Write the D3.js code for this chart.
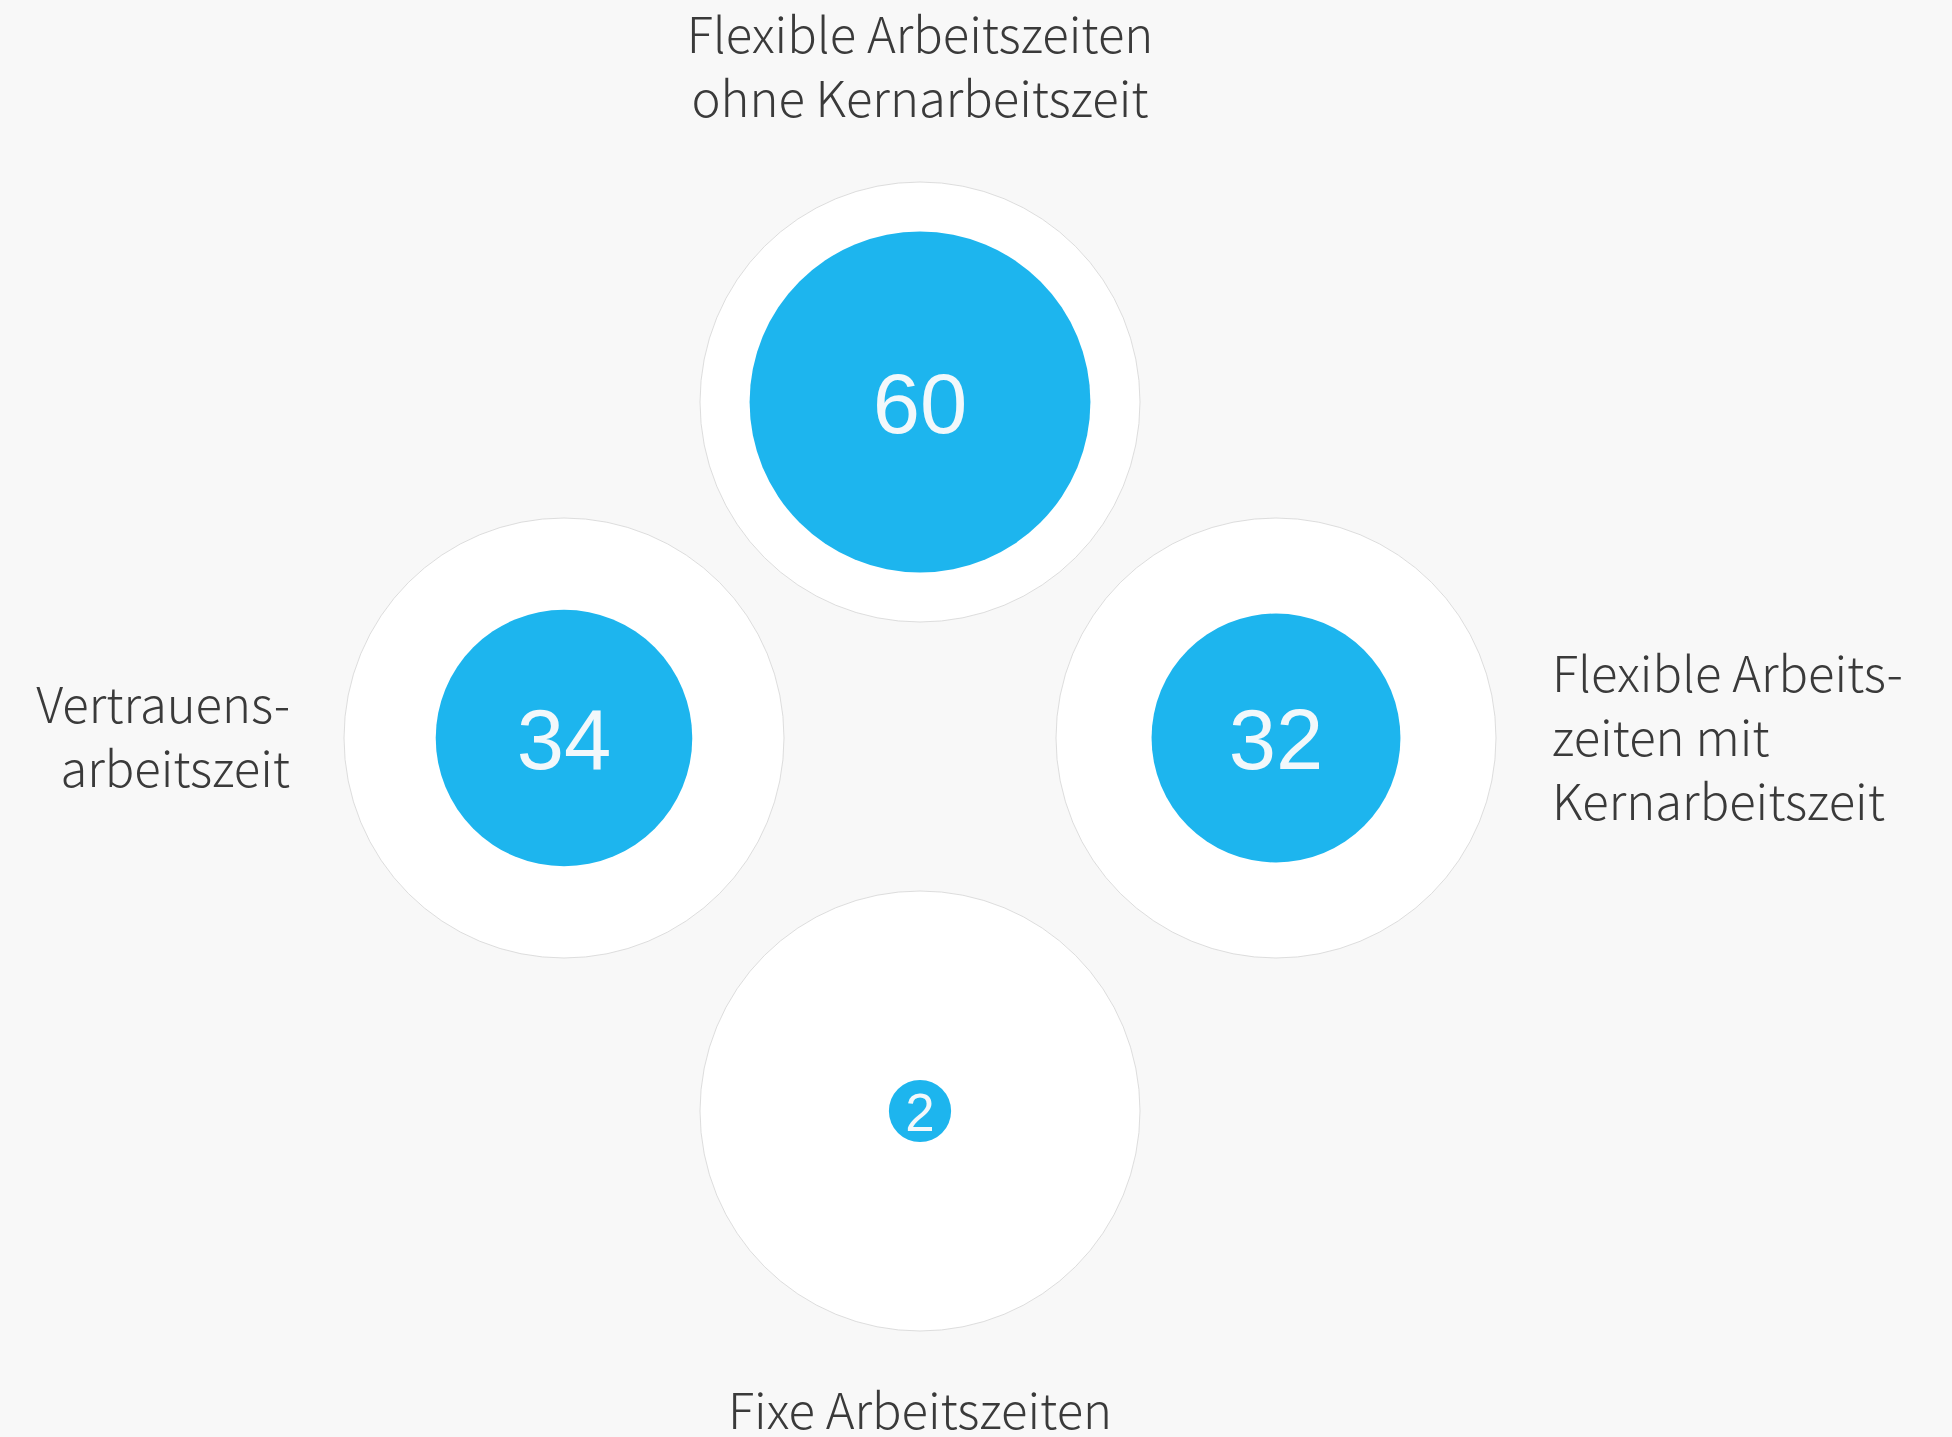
<!DOCTYPE html>
<html>
  <head>
    <meta charset="utf-8">
    <script src="https://d3js.org/d3.v7.min.js"></script>
    <style>
      body { margin: 0; background: #f8f8f8; }
      .label { font-family: "Noto Sans CJK SC", "Lato", sans-serif; font-weight: 300; font-size: 49px; fill: #3a3a3a; }
      .value { font-family: "Liberation Sans", Arial, sans-serif; fill: #f2f8fb; }
    </style>
  </head>
  <body>
    <svg id="chart" width="1952" height="1437"></svg>
    <script>
      // Anteil der Unternehmen in %, je Arbeitszeitmodell
      var categories = ["Flexible Arbeitszeiten ohne Kernarbeitszeit", "Vertrauensarbeitszeit",
                        "Flexible Arbeitszeiten mit Kernarbeitszeit", "Fixe Arbeitszeiten"];
      var values = [60, 34, 32, 2];
      var labelLines = [
        ["Flexible Arbeitszeiten", "ohne Kernarbeitszeit"],
        ["Vertrauens-", "arbeitszeit"],
        ["Flexible Arbeits-", "zeiten mit", "Kernarbeitszeit"],
        ["Fixe Arbeitszeiten"]
      ];
      var positions = ["top", "left", "right", "bottom"];

      var svg = d3.select("#chart");
      var cx = 920, cy = 738, R = 220;
      var dx = 356, dy = 336;
      var lineH = 64;

      var r = d3.scaleSqrt().domain([0, 100]).range([0, R]);

      var centers = {
        top: [cx, cy - dy],
        left: [cx - dx, cy],
        right: [cx + dx, cy],
        bottom: [cx, cy + 373]
      };

      var data = categories.map(function(c, i) {
        return {name: c, value: values[i], lines: labelLines[i], pos: positions[i],
                x: centers[positions[i]][0], y: centers[positions[i]][1]};
      });

      var g = svg.selectAll("g.bubble").data(data).enter().append("g")
        .attr("class", "bubble")
        .attr("transform", function(d) { return "translate(" + d.x + "," + d.y + ")"; });

      g.append("circle")
        .attr("r", r(100))
        .attr("fill", "#ffffff")
        .attr("stroke", "#d4d4d4")
        .attr("stroke-width", 0.8);

      g.append("circle")
        .attr("r", function(d) { return r(d.value); })
        .attr("fill", "#1db5ee");

      g.append("text")
        .attr("class", "value")
        .attr("text-anchor", "middle")
        .attr("dominant-baseline", "central")
        .attr("dy", "0.02em")
        .style("font-size", function(d) { return Math.min(85, r(d.value) * 1.7) + "px"; })
        .text(function(d) { return d.value; });

      // labels
      g.each(function(d) {
        var t = d3.select(this).append("text").attr("class", "label");
        var n = d.lines.length;
        var x0 = 0, y0 = 0, anchor = "middle";
        if (d.pos == "top") { y0 = -R - 65 - (n - 1) * lineH; }
        else if (d.pos == "bottom") { y0 = R + 98; }
        else if (d.pos == "left") { x0 = -R - 54; anchor = "end"; y0 = -(n - 1) * lineH / 2 + 17; }
        else { x0 = R + 56; anchor = "start"; y0 = -(n - 1) * lineH / 2 + 18; }
        t.attr("text-anchor", anchor);
        t.selectAll("tspan").data(d.lines).enter().append("tspan")
          .attr("x", x0)
          .attr("y", function(l, i) { return y0 + i * lineH; })
          .text(function(l) { return l; });
      });
    </script>
  </body>
</html>
